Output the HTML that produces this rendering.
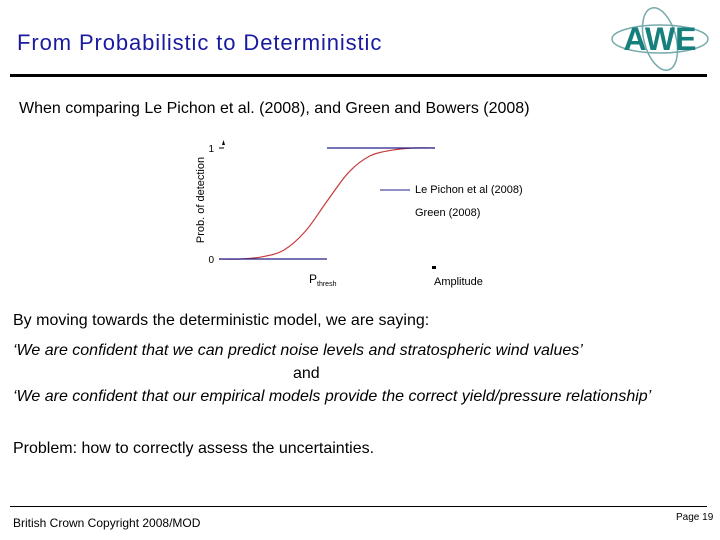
<!DOCTYPE html>
<html><head><meta charset="utf-8"><style>
body{margin:0;width:720px;height:540px;background:#fff;position:relative;overflow:hidden;font-family:"Liberation Sans",sans-serif}
.t{position:absolute;white-space:nowrap}
</style></head><body>
<div class="t" style="left:17px;top:30px;font-size:22px;letter-spacing:0.9px;color:#1a1aa0">From Probabilistic to Deterministic</div>
<svg style="position:absolute;left:605px;top:4px" width="110" height="70">
<ellipse cx="55" cy="35" rx="16" ry="32" fill="none" stroke="#7aa" stroke-width="1.5" transform="rotate(-15 55 35)"/>
<ellipse cx="55" cy="35" rx="48" ry="14" fill="none" stroke="#7aa" stroke-width="1.5"/>
<text x="55" y="46" text-anchor="middle" font-family="Liberation Sans" font-weight="bold" font-size="32" fill="#16807e">AWE</text>
</svg>
<div style="position:absolute;left:10px;top:74px;width:697px;height:3px;background:#000"></div>
<div class="t" style="left:19px;top:100px;font-size:16px">When comparing Le Pichon et al. (2008), and Green and Bowers (2008)</div>
<svg id="chart" style="position:absolute;left:0;top:0" width="720" height="300">
<text x="204" y="200" transform="rotate(-90 204 200)" text-anchor="middle" font-size="11" font-family="Liberation Sans">Prob. of detection</text>
<text x="214" y="152" text-anchor="end" font-size="10" font-family="Liberation Sans">1</text>
<line x1="219" y1="148" x2="224" y2="148" stroke="#000"/>
<polygon points="222,145 225,145 223.5,140" fill="#000"/>
<text x="214" y="263" text-anchor="end" font-size="10" font-family="Liberation Sans">0</text>
<text x="309" y="283" font-size="12" font-family="Liberation Sans">P<tspan font-size="7" dy="3">thresh</tspan></text>
<rect x="432" y="266" width="4" height="3" fill="#000"/>
<text x="434" y="285" font-size="11" font-family="Liberation Sans">Amplitude</text>
<line x1="380" y1="190" x2="410" y2="190" stroke="#22228a"/>
<text x="415" y="193" font-size="11" font-family="Liberation Sans">Le Pichon et al (2008)</text>
<text x="415" y="216" font-size="11" font-family="Liberation Sans">Green (2008)</text>
<g id="marks"></g>
</svg>
<div class="t" style="left:13px;top:312px;font-size:16px">By moving towards the deterministic model, we are saying:</div>
<div class="t" style="left:13px;top:342px;font-size:16px;font-style:italic">‘We are confident that we can predict noise levels and stratospheric wind values’</div>
<div class="t" style="left:293px;top:365px;font-size:16px">and</div>
<div class="t" style="left:13px;top:388px;font-size:16px;font-style:italic">‘We are confident that our empirical models provide the correct yield/pressure relationship’</div>
<div class="t" style="left:13px;top:440px;font-size:16px">Problem: how to correctly assess the uncertainties.</div>
<div style="position:absolute;left:10px;top:506px;width:697px;height:1px;background:#000"></div>
<div class="t" style="left:13px;top:516px;font-size:12px">British Crown Copyright 2008/MOD</div>
<div class="t" style="left:676px;top:512px;font-size:10px">Page 19</div>
<script>
const amps=[0,1,2,3,4,5,6,7,8,9,10];
const greenProb=[0,0,0.02,0.08,0.25,0.52,0.78,0.93,0.98,1,1];
const threshold=5;
const stepProb=[0,1];
const xs=a=>219+a*(435-219)/10, ys=p=>259-p*(259-148);
const g=document.getElementById('marks'),NS='http://www.w3.org/2000/svg';
function mk(t,at){const e=document.createElementNS(NS,t);for(const k in at)e.setAttribute(k,at[k]);g.appendChild(e);return e;}
let pts=amps.map((a,i)=>[xs(a),ys(greenProb[i])]);let d='M'+pts[0];
for(let i=0;i<pts.length-1;i++){const p0=pts[i-1]||pts[i],p1=pts[i],p2=pts[i+1],p3=pts[i+2]||p2;
d+=` C${p1[0]+(p2[0]-p0[0])/6},${p1[1]+(p2[1]-p0[1])/6} ${p2[0]-(p3[0]-p1[0])/6},${p2[1]-(p3[1]-p1[1])/6} ${p2[0]},${p2[1]}`;}
const red=mk('path',{d:d,fill:'none',stroke:'#c83a3a','stroke-width':1.2});


const l0=mk('line',{x1:xs(0),y1:ys(stepProb[0]),x2:xs(threshold),y2:ys(stepProb[0]),stroke:'#22228a','stroke-width':1.2});


const l1=mk('line',{x1:xs(threshold),y1:ys(stepProb[1]),x2:xs(10),y2:ys(stepProb[1]),stroke:'#22228a','stroke-width':1.2});


</script>
</body></html>
